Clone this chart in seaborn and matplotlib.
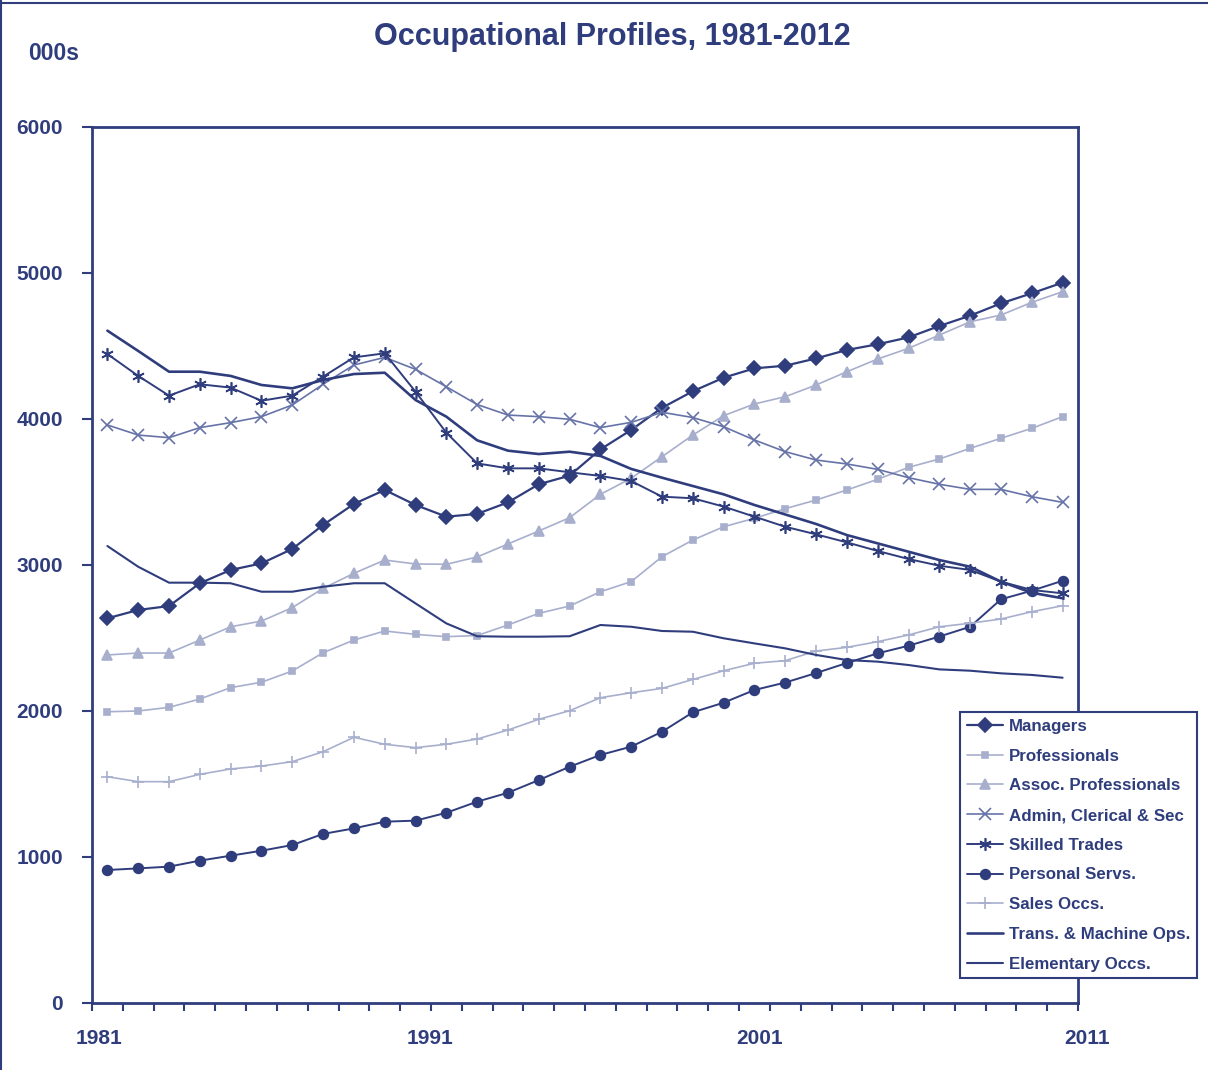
import numpy as np
import matplotlib
matplotlib.use("Agg")
import matplotlib.pyplot as plt
import seaborn as sns

years = list(range(1981, 2013))

# employment by occupation, thousands
managers = [2635, 2692, 2719, 2875, 2966, 3011, 3110, 3274, 3418, 3514, 3411, 3331, 3350, 3429, 3553, 3612,
            3792, 3925, 4077, 4190, 4283, 4347, 4365, 4415, 4473, 4512, 4559, 4637, 4708, 4792, 4861, 4934]
professionals = [1995, 2000, 2025, 2082, 2160, 2197, 2274, 2399, 2486, 2548, 2525, 2509, 2517, 2589, 2669, 2719,
                 2817, 2886, 3057, 3171, 3262, 3320, 3386, 3445, 3514, 3587, 3669, 3726, 3799, 3868, 3936, 4016]
assoc = [2384, 2397, 2397, 2486, 2577, 2616, 2708, 2840, 2943, 3034, 3007, 3005, 3055, 3144, 3233, 3324,
         3484, 3594, 3742, 3890, 4023, 4103, 4153, 4233, 4324, 4411, 4484, 4575, 4666, 4712, 4799, 4872]
admin = [3959, 3890, 3872, 3941, 3975, 4016, 4096, 4238, 4370, 4422, 4340, 4221, 4099, 4027, 4016, 3998,
         3941, 3977, 4046, 4010, 3947, 3856, 3776, 3719, 3692, 3655, 3598, 3553, 3518, 3518, 3468, 3429]
skilled = [4445, 4295, 4160, 4238, 4215, 4125, 4160, 4290, 4422, 4450, 4187, 3906, 3696, 3662, 3662, 3635,
           3610, 3575, 3468, 3457, 3400, 3331, 3262, 3210, 3155, 3096, 3041, 2995, 2966, 2886, 2829, 2806]
personal = [911, 922, 934, 975, 1009, 1043, 1082, 1158, 1196, 1242, 1249, 1303, 1379, 1440, 1527, 1618,
            1699, 1756, 1858, 1991, 2057, 2144, 2195, 2260, 2329, 2395, 2447, 2510, 2577, 2765, 2824, 2892]
sales = [1550, 1516, 1516, 1566, 1603, 1623, 1653, 1721, 1820, 1772, 1749, 1772, 1808, 1870, 1943, 2002,
         2091, 2125, 2155, 2216, 2276, 2327, 2345, 2411, 2436, 2475, 2521, 2577, 2601, 2630, 2680, 2721]
trans = [4605, 4466, 4324, 4324, 4295, 4233, 4210, 4267, 4308, 4317, 4130, 4016, 3854, 3783, 3760, 3776,
         3747, 3658, 3598, 3541, 3484, 3411, 3346, 3281, 3205, 3148, 3091, 3034, 2988, 2886, 2810, 2772]
elementary = [3130, 2988, 2879, 2879, 2875, 2817, 2817, 2851, 2875, 2875, 2737, 2600, 2512, 2509, 2509, 2512,
              2589, 2577, 2548, 2543, 2498, 2463, 2429, 2384, 2349, 2338, 2315, 2285, 2276, 2258, 2247, 2228]

year_labels = ["1981", "1991", "2001", "2011"]
year_label_pos = [1980.74, 1991.46, 2002.16, 2012.8]

sns.set_style("ticks")
plt.rcParams["font.family"] = ["Liberation Sans", "DejaVu Sans"]

navy = "#2F3D7D"
light = "#A8AFCD"
mid = "#6673A8"

fig = plt.figure(figsize=(12.08, 10.70), dpi=100)
ax = fig.add_axes([92 / 1208, 1 - 1003 / 1070, (1078 - 92) / 1208, (1003 - 127) / 1070])

asterisk = (6, 2, 0)
series = [
    ("Managers", managers, "D", navy, 7, 1.6),
    ("Professionals", professionals, "s", light, 5, 1.2),
    ("Assoc. Professionals", assoc, "^", light, 7.5, 1.2),
    ("Admin, Clerical & Sec", admin, "x", mid, 8, 1.2),
    ("Skilled Trades", skilled, asterisk, navy, 9, 1.4),
    ("Personal Servs.", personal, "o", navy, 7, 1.4),
    ("Sales Occs.", sales, "+", light, 9, 1.2),
    ("Trans. & Machine Ops.", trans, None, navy, 0, 1.9),
    ("Elementary Occs.", elementary, None, navy, 0, 1.5),
]

for name, vals, marker, color, ms, lw in series:
    sns.lineplot(x=years, y=vals, ax=ax, color=color, marker=marker, markersize=ms,
                 markeredgecolor=color, markerfacecolor=color, markeredgewidth=1.2,
                 linewidth=lw, label=name)

ax.set_xlim(1980.5, 2012.5)
ax.set_ylim(0, 6000)
ax.set_xticks(np.arange(1980.5, 2013, 1))
ax.set_xticklabels([])
ax.set_yticks(range(0, 6001, 1000))
ax.set_yticklabels([str(v) for v in range(0, 6001, 1000)], fontsize=15, fontweight="bold", color=navy)
ax.tick_params(axis="x", length=6, width=1.5, color=navy, direction="out")
ax.tick_params(axis="y", length=7, width=1.5, color=navy, direction="out", pad=14)
ax.set_xlabel("")
ax.set_ylabel("")
for sp in ax.spines.values():
    sp.set_visible(True)
    sp.set_color(navy)
    sp.set_linewidth(2)

for lab, pos in zip(year_labels, year_label_pos):
    ax.text(pos, -0.04, lab, transform=ax.get_xaxis_transform(), ha="center", va="center",
            fontsize=15, fontweight="bold", color=navy, clip_on=False)

fig.text(612 / 1208, 1 - 37 / 1070, "Occupational Profiles, 1981-2012", ha="center", va="center",
         fontsize=22, fontweight="bold", color=navy)
fig.text(28 / 1208, 1 - 53 / 1070, "000s", ha="left", va="center",
         fontsize=16.5, fontweight="bold", color=navy)

leg = ax.legend(loc="upper left", bbox_to_anchor=(960 / 1208, 1 - 712 / 1070), bbox_transform=fig.transFigure,
                borderaxespad=0, frameon=True, fancybox=False, framealpha=1, edgecolor=navy,
                prop={"weight": "bold", "size": 12.2},
                handlelength=2.15, handletextpad=0.35, labelspacing=0.87, borderpad=0.4)
leg.get_frame().set_linewidth(1.5)
for t in leg.get_texts():
    t.set_color(navy)

# thin frame on the page (top and left edges)
fig.add_artist(plt.Line2D([0.0012, 0.0012], [0, 1], transform=fig.transFigure, color=navy, lw=1.5))
fig.add_artist(plt.Line2D([0, 1], [1 - 2.5 / 1070, 1 - 2.5 / 1070], transform=fig.transFigure, color=navy, lw=1.5))

fig.savefig("out.png", dpi=100, facecolor="white")
